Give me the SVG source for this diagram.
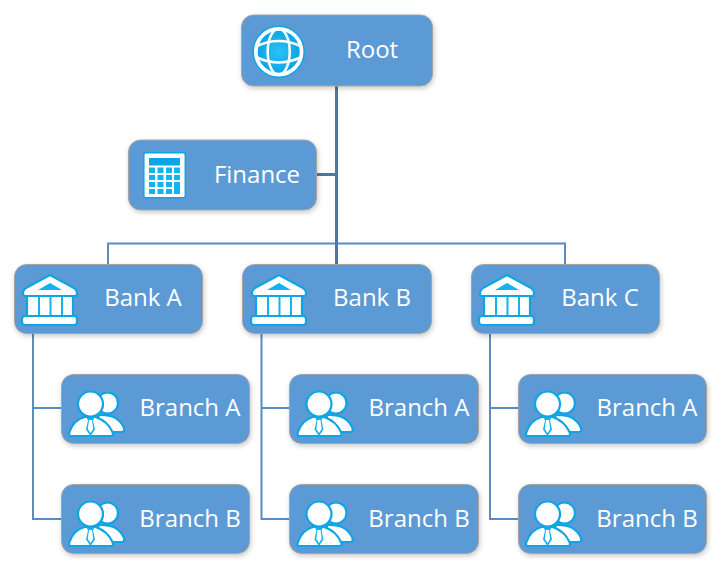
<svg xmlns="http://www.w3.org/2000/svg" width="726" height="572" viewBox="0 0 726 572">
<style>
text{font-family:"Open Sans","Noto Sans","Liberation Sans",sans-serif;font-size:24px;fill:#fff;text-anchor:middle}
.box{fill:#5b9ad5;stroke:#a5a5a5;stroke-width:1;filter:url(#sh)}
.c{fill:none;stroke:#5a8cbf;stroke-width:2}
.m{fill:none;stroke:#4777ab;stroke-width:3}
.w{fill:#fff;stroke:#0ea5e4;stroke-width:2.200;stroke-linejoin:round}
.b{fill:#12b3f0}
</style>
<defs>
<filter id="sh" x="-10%" y="-15%" width="120%" height="135%"><feDropShadow dx="1" dy="2" stdDeviation="2.500" flood-color="#000" flood-opacity=".22"/></filter>
<radialGradient id="gl"><stop offset="0" stop-color="#2cc0f5"/><stop offset="1" stop-color="#0ca6e6"/></radialGradient>
<g id="bank">
<path class="w" d="M28 0 L52 13 Q57 17 54 21 L2 21 Q-1 17 4 13 Z"/>
<path class="b" d="M28 8 L40 15 L16 15 Z"/>
<path class="w" d="M5 21H51V42H5Z"/>
<path fill="#12b3f0" d="M16 22h2v19h-2zM27.500 22h2v19h-2zM39 22h2v19h-2z"/>
<rect class="w" x="0" y="41" width="55" height="9" rx="3"/>
</g>
<g id="people">
<circle class="w" cx="39" cy="12" r="10.500"/>
<path class="w" d="M30 24 Q49 23 55 36 Q57 40 54 41 L30 41 Z"/>
<path class="w" d="M1 45 Q0 43 1 41 Q5 29 16 26 L27 26 Q39 30 44 41 Q45 43 44 45 Z"/>
<circle class="w" cx="22" cy="13" r="12.500"/>
<path class="b" d="M18 26.500h8l-1.500 3 2 9-4.500 6.500-4.500-6.500 2-9z"/>
<path fill="#fff" d="M20.500 29h3l1.200 9-2.700 4-2.700-4z"/>
</g>
</defs>
<g id="connectors">
<path class="m" d="M336.500 86V243"/>
<path class="m" d="M316 174.500H336.500"/>
<path class="c" d="M108 264V243.500H565V264"/>
<path class="m" d="M336.500 243V264"/>
<path class="c" d="M33 333V519H61M33 408H61"/>
<path class="c" d="M261.500 333V519H289.500M261.500 408H289.500"/>
<path class="c" d="M490 333V519H518M490 408H518"/>
</g>
<g id="root"><rect class="box" x="241.500" y="15" width="191" height="71" rx="12"/>
<circle cx="278.700" cy="51.700" r="25.500" fill="#fff" stroke="#0ea5e4" stroke-width="1.500"/>
<circle cx="278.700" cy="51.700" r="21" fill="url(#gl)"/>
<g fill="none" stroke="#fff" stroke-width="2.500"><ellipse cx="278.700" cy="51.700" rx="11" ry="23"/><path d="M257 46Q278.700 36 300.400 46M257 57.500Q278.700 67.500 300.400 57.500"/></g>
<text x="372" y="58">Root</text></g>
<g id="finance"><rect class="box" x="128.500" y="140" width="188" height="70" rx="12"/>
<rect x="143.800" y="152.800" width="41.500" height="45" rx="2" fill="#fff" stroke="#0ea5e4" stroke-width="1.500"/>
<rect x="149" y="158" width="31" height="7.500" fill="#0ea5e4"/>
<path class="b" d="M149 167.500h6v5.500h-6zM157.500 167.500h6v5.500h-6zM166 167.500h6v5.500h-6zM174 167.500h6v5.500h-6zM149 175h6v5h-6zM157.500 175h6v5h-6zM166 175h6v5h-6zM174 175h6v5h-6zM149 182h6v5h-6zM157.500 182h6v5h-6zM166 182h6v5h-6zM174 182h6v12h-6zM149 189h6v5h-6zM157.500 189h6v5h-6zM166 189h6v5h-6z"/>
<text x="257" y="183">Finance</text></g>
<g id="bank-a"><rect class="box" x="14.500" y="264.500" width="188" height="69" rx="12"/><use href="#bank" x="22" y="275"/><text x="143" y="306">Bank A</text></g>
<g id="bank-b"><rect class="box" x="242.500" y="264.500" width="189" height="69" rx="12"/><use href="#bank" x="251" y="275"/><text x="372" y="306">Bank B</text></g>
<g id="bank-c"><rect class="box" x="471.500" y="264.500" width="188" height="69" rx="12"/><use href="#bank" x="479" y="275"/><text x="600" y="306">Bank C</text></g>
<g id="branch-a1"><rect class="box" x="61.500" y="374.500" width="188" height="69" rx="12"/><use href="#people" x="68.500" y="391"/><text x="190" y="416">Branch A</text></g>
<g id="branch-b1"><rect class="box" x="61.500" y="484.500" width="188" height="69" rx="12"/><use href="#people" x="68.500" y="501"/><text x="190" y="527">Branch B</text></g>
<g id="branch-a2"><rect class="box" x="289.500" y="374.500" width="189" height="69" rx="12"/><use href="#people" x="297" y="391"/><text x="419" y="416">Branch A</text></g>
<g id="branch-b2"><rect class="box" x="289.500" y="484.500" width="189" height="69" rx="12"/><use href="#people" x="297" y="501"/><text x="419" y="527">Branch B</text></g>
<g id="branch-a3"><rect class="box" x="518.500" y="374.500" width="188" height="69" rx="12"/><use href="#people" x="525.500" y="391"/><text x="647" y="416">Branch A</text></g>
<g id="branch-b3"><rect class="box" x="518.500" y="484.500" width="188" height="69" rx="12"/><use href="#people" x="525.500" y="501"/><text x="647" y="527">Branch B</text></g>
</svg>
